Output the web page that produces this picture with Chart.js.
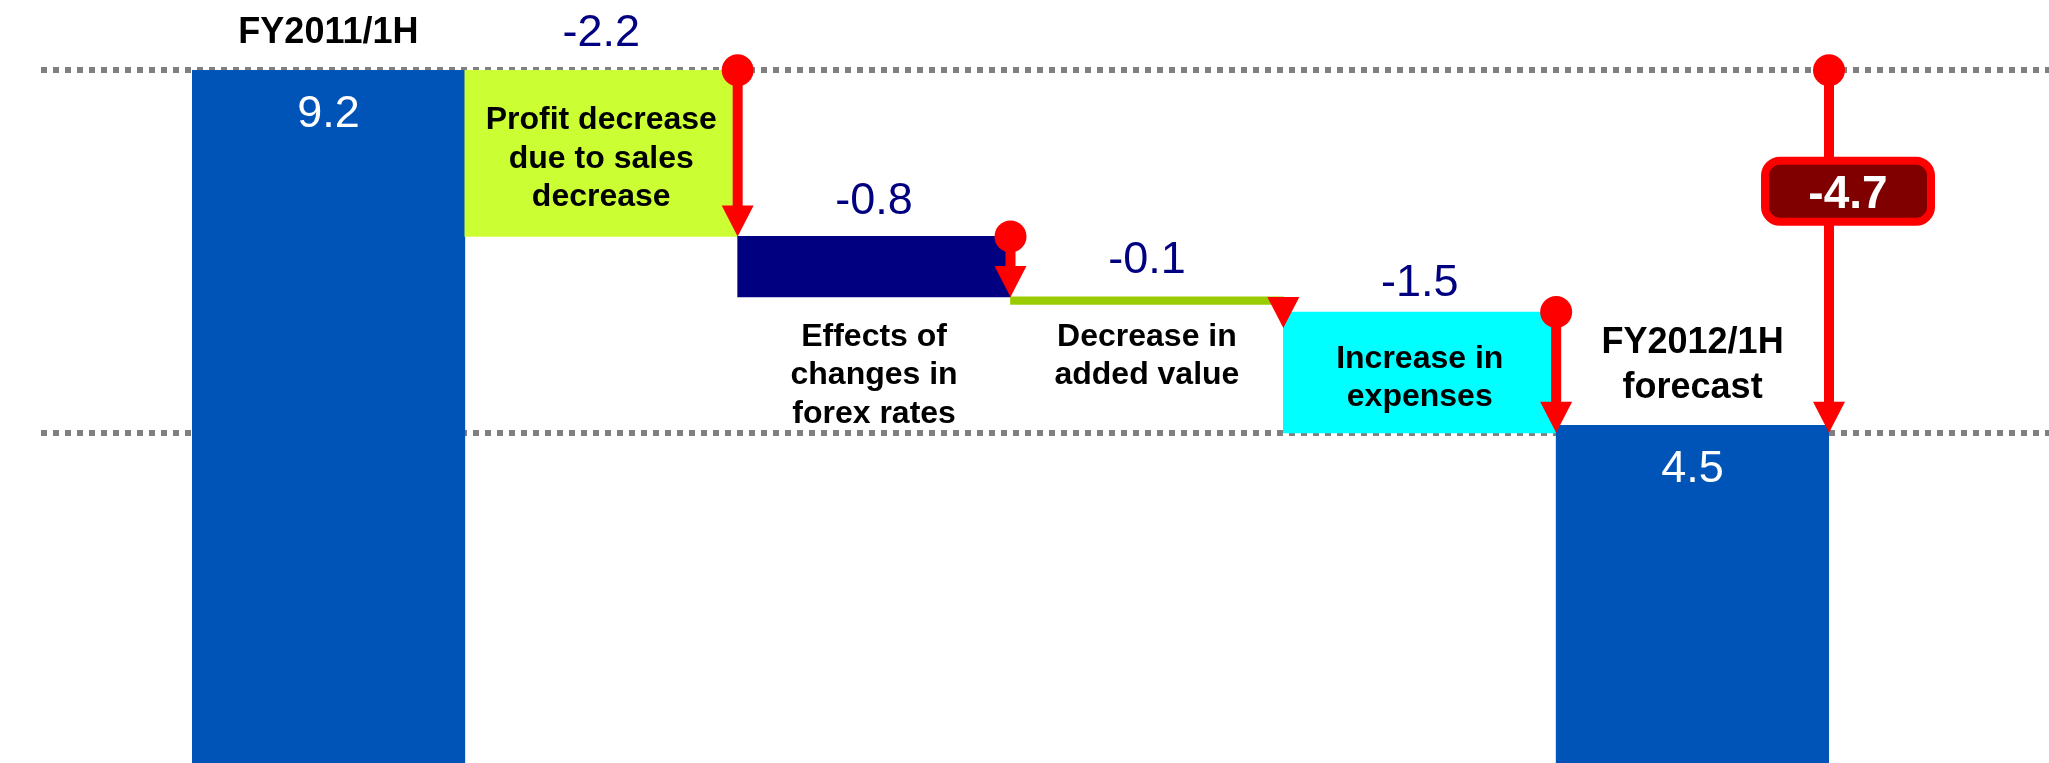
<!DOCTYPE html>
<html>
<head>
<meta charset="utf-8">
<title>Operating income bridge</title>
<script src="https://cdn.jsdelivr.net/npm/chart.js@4.4.0/dist/chart.umd.min.js"></script>
<style>
    body { margin: 0; background: #fff; }
    #wrap { width: 2049px; height: 763px; position: relative; }
</style>
</head>
<body>
<div id="wrap"><canvas id="myChart"></canvas></div>
<script>
const categories = [
    ['FY2011/1H'],
    ['Profit decrease', 'due to sales', 'decrease'],
    ['Effects of', 'changes in', 'forex rates'],
    ['Decrease in', 'added value'],
    ['Increase in', 'expenses'],
    ['FY2012/1H', 'forecast']
];
const amounts = [9.2, -2.2, -0.8, -0.1, -1.5, 4.5];
const barTop = [9.2, 9.2, 7.0, 6.2, 6.0, 4.5];
const barBottom = [0, 7.0, 6.2, 6.1, 4.4, 0];
const totalChange = -4.7;
const guideLines = [9.2, 4.4];

const colors = ['#0054B8', '#CCFF33', '#000080', '#99CC00', '#00FFFF', '#0054B8'];
const FONT = '"Liberation Sans", Arial, sans-serif';
const RED = '#FF0000';

// where the category name goes, relative to its bar
const namePlace = ['above', 'inside', 'below', 'below', 'inside', 'above'];
// gap between a bar top and its value (the cyan one sits a bit closer)
const valueGap = [41, 40, 39, 40, 32, 41];

function textAt(ctx, text, x, cy, size, weight, color) {
    ctx.font = `${weight} ${size}px ${FONT}`;
    ctx.fillStyle = color;
    ctx.textAlign = 'center';
    ctx.textBaseline = 'alphabetic';
    ctx.fillText(text, x, cy + size * 0.358);
}

function drawArrow(ctx, x, y1, y2) {
    const head = 31;
    const half = 16;
    ctx.fillStyle = RED;
    if (y2 - y1 < head + 6) {
        // too short: only the head, hanging from the start
        ctx.beginPath();
        ctx.moveTo(x - half, y1);
        ctx.lineTo(x + half, y1);
        ctx.lineTo(x, y1 + head);
        ctx.closePath();
        ctx.fill();
        return;
    }
    ctx.fillRect(x - 5, y1, 10, y2 - head - y1 + 1);
    ctx.beginPath();
    ctx.arc(x, y1, 16, 0, Math.PI * 2);
    ctx.fill();
    ctx.beginPath();
    ctx.moveTo(x - half, y2 - head);
    ctx.lineTo(x + half, y2 - head);
    ctx.lineTo(x, y2);
    ctx.closePath();
    ctx.fill();
}

const guidePlugin = {
    id: 'guides',
    beforeDatasetsDraw(chart) {
        const ctx = chart.ctx;
        const y = chart.scales.y;
        ctx.save();
        ctx.strokeStyle = '#808080';
        ctx.lineWidth = 6;
        ctx.setLineDash([6, 6]);
        guideLines.forEach(v => {
            const py = Math.round(y.getPixelForValue(v));
            ctx.beginPath();
            ctx.moveTo(41, py);
            ctx.lineTo(chart.width, py);
            ctx.stroke();
        });
        ctx.restore();
    }
};

const labelPlugin = {
    id: 'bridgeLabels',
    afterDatasetsDraw(chart) {
        const ctx = chart.ctx;
        const y = chart.scales.y;
        const bars = chart.getDatasetMeta(0).data;
        ctx.save();

        // names under bars share one row
        let belowRow = 0;
        namePlace.forEach((p, i) => {
            if (p === 'below') belowRow = Math.max(belowRow, y.getPixelForValue(barBottom[i]));
        });
        belowRow += 30;

        bars.forEach((bar, i) => {
            const top = y.getPixelForValue(barTop[i]);
            const bottom = Math.min(y.getPixelForValue(barBottom[i]), chart.height);
            const lines = categories[i];
            const isEnd = (i === 0 || i === bars.length - 1);

            if (namePlace[i] === 'above') {
                const lh = 45;
                lines.forEach((t, k) => {
                    textAt(ctx, t, bar.x, top - 40 - (lines.length - 1 - k) * lh, 36, 'bold', '#000');
                });
            } else if (namePlace[i] === 'inside') {
                const lh = 38.5;
                const mid = (top + bottom) / 2 + 3;
                lines.forEach((t, k) => {
                    textAt(ctx, t, bar.x, mid + (k - (lines.length - 1) / 2) * lh, 32, 'bold', '#000');
                });
            } else {
                lines.forEach((t, k) => {
                    textAt(ctx, t, bar.x, belowRow + k * 38.5, 32, 'bold', '#000');
                });
            }

            if (isEnd) {
                textAt(ctx, amounts[i].toFixed(1), bar.x, top + valueGap[i], 45, 'normal', '#fff');
            } else {
                textAt(ctx, amounts[i].toFixed(1), bar.x, top - valueGap[i], 45, 'normal', '#000080');
            }
        });

        // step arrows at the right edge of each change
        for (let i = 1; i < bars.length - 1; i++) {
            const bar = bars[i];
            const x = bar.x + bar.width / 2;
            drawArrow(ctx, x, y.getPixelForValue(barTop[i]), y.getPixelForValue(barBottom[i]));
        }

        // total change arrow with its badge
        const last = bars[bars.length - 1];
        const ax = last.x + last.width / 2;
        const y1 = y.getPixelForValue(guideLines[0]);
        drawArrow(ctx, ax, y1, y.getPixelForValue(guideLines[1]));

        const bx = ax + 19, by = y1 + 121;
        ctx.beginPath();
        ctx.roundRect(bx - 83, by - 30.5, 166, 61, 15);
        ctx.fillStyle = '#800000';
        ctx.fill();
        ctx.lineWidth = 8;
        ctx.strokeStyle = RED;
        ctx.stroke();
        textAt(ctx, totalChange.toFixed(1), bx, by, 46, 'bold', '#fff');

        ctx.restore();
    }
};

const config = {
    type: 'bar',
    data: {
        labels: categories,
        datasets: [{
            data: barBottom.map((b, i) => [b, barTop[i]]),
            backgroundColor: colors,
            borderWidth: 0,
            barPercentage: 1,
            categoryPercentage: 1
        }]
    },
    options: {
        responsive: true,
        maintainAspectRatio: false,
        animation: false,
        layout: { padding: { left: 192, right: 220, top: 0, bottom: 0 } },
        plugins: {
            legend: { display: false },
            tooltip: { enabled: false }
        },
        scales: {
            x: { display: false },
            y: { display: false, min: 0.03, max: 10.13 }
        }
    },
    plugins: [guidePlugin, labelPlugin]
};

new Chart(document.getElementById('myChart'), config);
</script>
</body>
</html>
